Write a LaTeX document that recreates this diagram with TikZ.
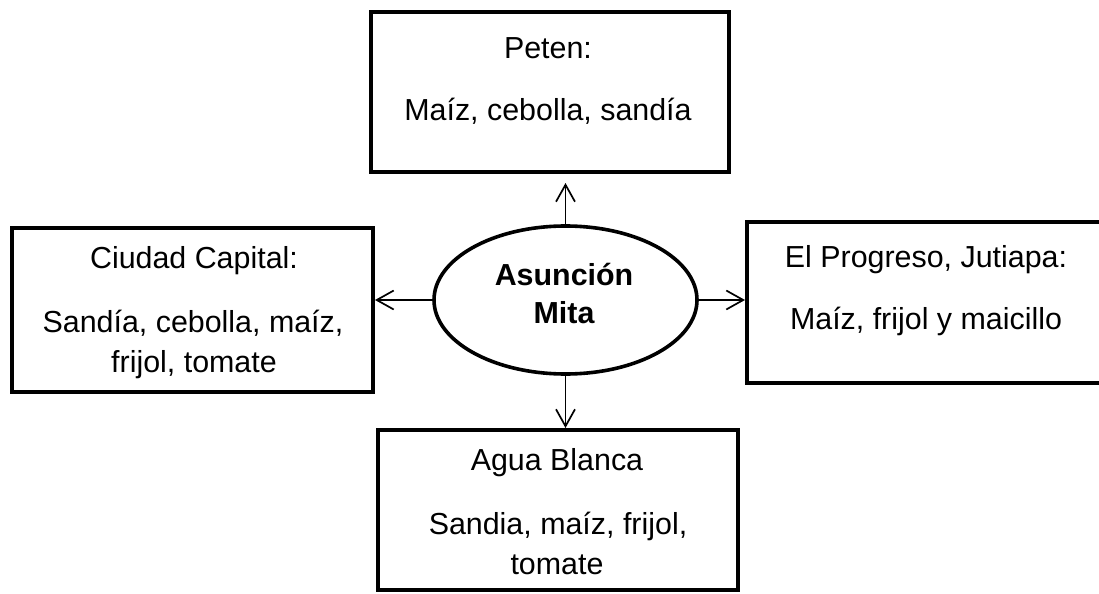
\documentclass[tikz,border=0pt]{standalone}
\usepackage{fontspec}
\setmainfont{Liberation Sans}
\usetikzlibrary{shapes.geometric,arrows.meta}
\begin{document}
\begin{tikzpicture}[x=0.5pt,y=-0.5pt,
  region/.style={draw, line width=2pt, inner sep=0pt, rectangle},
  txt/.style={anchor=base, inner sep=0pt, font=\fontsize{15.2pt}{18pt}\selectfont},
  btxt/.style={txt, font=\fontsize{15.2pt}{18pt}\selectfont\bfseries},
  link/.style={-{Straight Barb[length=8.5pt,width=9.5pt]}, line width=0.85pt}
]
\useasboundingbox (0,0) rectangle (1099,594);
% boxes
\node[region, minimum width=179pt, minimum height=80pt] (top) at (550,92) {};
\node[region, minimum width=180.5pt, minimum height=82pt] (left) at (192.5,310) {};
\node[region, minimum width=180pt, minimum height=80.5pt] (right) at (927,302.5) {};
\node[region, minimum width=180pt, minimum height=80pt] (bot) at (558,510) {};
\node[draw, ellipse, line width=1.8pt, inner sep=0pt, minimum width=131.5pt, minimum height=74pt] (ell) at (565.5,300) {};
% texts
\node[txt] (t1) at (548,58) {Peten:};
\node[txt] (t2) at (548,120) {Maíz, cebolla, sandía};
\node[txt] (l1) at (194,268) {Ciudad Capital:};
\node[txt] (l2) at (193,332) {Sandía, cebolla, maíz,};
\node[txt] (l3) at (194,372) {frijol, tomate};
\node[txt] (r1) at (926,267) {El Progreso, Jutiapa:};
\node[txt] (r2) at (926,329) {Maíz, frijol y maicillo};
\node[txt] (b1) at (557,470) {Agua Blanca};
\node[txt] (b2) at (558,534) {Sandia, maíz, frijol,};
\node[txt] (b3) at (557,574) {tomate};
\node[btxt] (e1) at (564,285) {Asunción};
\node[btxt] (e2) at (564,323) {Mita};
% connectors
\draw[link, shorten >=4.5pt] (ell.north) -- (ell.north |- top.south);
\draw[link] (ell.west) -- (ell.west -| left.east);
\draw[link] (ell.east) -- (ell.east -| right.west);
\draw[link] (ell.south) -- (ell.south |- bot.north);
\end{tikzpicture}
\end{document}
